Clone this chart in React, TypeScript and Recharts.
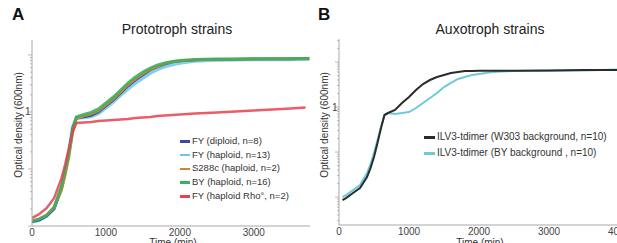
import { Legend, Line, LineChart, XAxis, YAxis } from "recharts";

// growth curves, OD600 vs time (min)
const TIME_A = [0, 100, 200, 300, 400, 450, 500, 550, 600, 700, 800, 900, 1000, 1100, 1200, 1300, 1400, 1500, 1600, 1700, 1800, 1900, 2000, 2200, 2500, 3000, 3500, 3700, 3750];
const FY_DIPLOID = [0.0118, 0.0127, 0.015, 0.0199, 0.0464, 0.0923, 0.199, 0.524, 0.785, 0.817, 0.868, 1.0, 1.27, 1.62, 2.15, 2.86, 3.64, 4.46, 5.46, 6.16, 6.95, 7.54, 7.85, 8.17, 8.34, 8.51, 8.51, 8.68, 8.68];
const FY_HAPLOID = [0.0118, 0.0127, 0.015, 0.0207, 0.0464, 0.0923, 0.207, 0.545, 0.785, 0.801, 0.834, 0.941, 1.18, 1.5, 1.99, 2.53, 3.23, 3.95, 4.83, 5.57, 6.28, 6.81, 7.24, 7.85, 8.17, 8.34, 8.34, 8.51, 8.51];
const S288C = [0.0122, 0.0133, 0.0156, 0.0207, 0.0428, 0.0785, 0.162, 0.428, 0.754, 0.851, 0.922, 1.04, 1.33, 1.69, 2.24, 2.98, 3.79, 4.64, 5.57, 6.28, 7.09, 7.54, 7.85, 8.17, 8.34, 8.51, 8.51, 8.51, 8.51];
const BY = [0.0122, 0.0133, 0.0156, 0.0215, 0.0503, 0.0961, 0.191, 0.483, 0.817, 0.904, 0.98, 1.13, 1.44, 1.83, 2.43, 3.23, 4.11, 5.03, 5.91, 6.68, 7.24, 7.69, 8.01, 8.34, 8.51, 8.6, 8.68, 8.68, 8.68];
const FY_RHO = [0.0138, 0.0162, 0.0207, 0.031, 0.0695, 0.122, 0.234, 0.446, 0.641, 0.654, 0.668, 0.695, 0.709, 0.724, 0.739, 0.754, 0.785, 0.801, 0.817, 0.851, 0.868, 0.886, 0.904, 0.941, 0.98, 1.06, 1.15, 1.2, null];

const TIME_B = [50, 100, 200, 300, 400, 450, 500, 550, 600, 650, 700, 800, 900, 1000, 1100, 1200, 1300, 1400, 1500, 1600, 1700, 1800, 1900, 2000, 2200, 2500, 3000, 3500, 4000];
const ILV3_W303 = [0.0086, 0.0095, 0.0123, 0.0159, 0.0278, 0.0441, 0.0774, 0.159, 0.341, 0.664, 0.736, 0.858, 1.23, 1.67, 2.39, 3.24, 3.98, 4.64, 5.14, 5.7, 5.99, 6.31, 6.31, 6.41, 6.41, 6.41, 6.49, 6.64, 6.64];
const ILV3_BY = [0.01, 0.0111, 0.0143, 0.0185, 0.0341, 0.0541, 0.095, 0.185, 0.36, 0.664, 0.736, 0.699, 0.736, 0.774, 0.95, 1.23, 1.59, 2.05, 2.78, 3.42, 4.19, 4.64, 5.14, 5.41, 5.99, 6.31, 6.41, 6.49, 6.81];

const NAMES_A = ["FY (diploid, n=8)", "FY (haploid, n=13)", "S288c (haploid, n=2)", "BY (haploid, n=16)", "FY (haploid Rho°, n=2)"];
const NAMES_B = ["ILV3-tdimer (W303 background, n=10)", "ILV3-tdimer (BY background , n=10)"];

const X_TICKS_A = [0, 1000, 2000, 3000];
const X_TICKS_B = [0, 1000, 2000, 3000, 4000];
const Y_TICKS_A = [0.01, 0.02, 0.03, 0.04, 0.05, 0.06, 0.07, 0.08, 0.09, 0.1, 0.2, 0.3, 0.4, 0.5, 0.6, 0.7, 0.8, 0.9, 1, 2, 3, 4, 5, 6, 7, 8, 9, 10];
const Y_TICKS_B = [0.003, 0.004, 0.005, 0.006, 0.007, 0.008, 0.009, ...Y_TICKS_A, 20, 30];
const MAJOR = [0.01, 0.1, 1, 10];

const FONT = '"Liberation Sans", Arial, sans-serif';
const AXIS = "#a8a8a8";
const COLORS_A = ["#3b4a9e", "#6cc7ec", "#c98538", "#3fae5c", "#e8414b"];
const COLORS_B = ["#2b2b2b", "#6ccbd8"];

const rowsA = TIME_A.map((t, i) => ({
  t,
  dip: FY_DIPLOID[i],
  hap: FY_HAPLOID[i],
  s288c: S288C[i],
  by: BY[i],
  rho: FY_RHO[i],
}));
const rowsB = TIME_B.map((t, i) => ({ t, w303: ILV3_W303[i], by: ILV3_BY[i] }));

function LogTick(props: any) {
  const { x, y, payload } = props;
  const v = payload.value;
  const len = MAJOR.includes(v) ? 4 : 2;
  return (
    <g>
      <line x1={x - len} x2={x} y1={y} y2={y} stroke={AXIS} strokeWidth={0.8} />
      {v === 1 && (
        <text x={x - 1.5} y={y} dy={3.5} textAnchor="end" fontSize={10} fill="#444">
          1
        </text>
      )}
    </g>
  );
}

function legendBox(names: string[], colors: string[], size: number, row: number, seg: number) {
  return () => (
    <div style={{ fontSize: size, lineHeight: `${row}px`, color: "#333", whiteSpace: "nowrap" }}>
      {names.map((n, i) => (
        <div key={n}>
          <span
            style={{
              display: "inline-block",
              width: seg,
              height: 2.5,
              background: colors[i],
              verticalAlign: "middle",
              marginRight: 2,
            }}
          />
          {n}
        </div>
      ))}
    </div>
  );
}

const abs = (s: any) => ({ position: "absolute" as const, ...s });

export default function App() {
  return (
    <div
      style={abs({
        left: 0,
        top: 0,
        width: 617,
        height: 243,
        overflow: "hidden",
        background: "#fff",
        fontFamily: FONT,
      })}
    >
      <div style={abs({ left: 0, top: 0 })}>
        <LineChart width={312} height={243} data={rowsA} margin={{ top: 40, right: 2, bottom: 0, left: 0 }}>
          <XAxis
            dataKey="t"
            type="number"
            domain={[0, 3760]}
            allowDataOverflow
            ticks={X_TICKS_A}
            interval={0}
            tickLine={false}
            tickSize={0}
            tickMargin={3}
            height={17}
            stroke={AXIS}
            tick={{ fontSize: 10, fill: "#444" }}
          />
          <YAxis
            type="number"
            scale="log"
            domain={[0.01, 18.3]}
            allowDataOverflow
            ticks={Y_TICKS_A}
            interval={0}
            tickLine={false}
            tickSize={0}
            tickMargin={0}
            width={32}
            stroke={AXIS}
            tick={<LogTick />}
          />
          <Line dataKey="hap" stroke={COLORS_A[1]} strokeWidth={3.5} strokeOpacity={0.85} dot={false} isAnimationActive={false} />
          <Line dataKey="dip" stroke={COLORS_A[0]} strokeWidth={2.5} dot={false} isAnimationActive={false} />
          <Line dataKey="s288c" stroke={COLORS_A[2]} strokeWidth={2.5} dot={false} isAnimationActive={false} />
          <Line dataKey="by" stroke={COLORS_A[3]} strokeWidth={3} strokeOpacity={0.9} dot={false} isAnimationActive={false} />
          <Line dataKey="rho" stroke={COLORS_A[4]} strokeWidth={2.5} strokeOpacity={0.85} dot={false} isAnimationActive={false} />
          <Legend
            layout="vertical"
            align="center"
            verticalAlign="middle"
            wrapperStyle={{ left: 180, top: 134, width: "auto", height: "auto" }}
            content={legendBox(NAMES_A, COLORS_A, 9.5, 13.7, 10)}
          />
        </LineChart>
      </div>

      <div style={abs({ left: 307, top: 0 })}>
        <LineChart width={314} height={243} data={rowsB} margin={{ top: 39, right: 2, bottom: 0, left: 0 }}>
          <XAxis
            dataKey="t"
            type="number"
            domain={[0, 4000]}
            allowDataOverflow
            ticks={X_TICKS_B}
            interval={0}
            tickLine={false}
            tickSize={0}
            tickMargin={3}
            height={18}
            stroke={AXIS}
            tick={{ fontSize: 10, fill: "#444" }}
          />
          <YAxis
            type="number"
            scale="log"
            domain={[0.0024, 32.4]}
            allowDataOverflow
            ticks={Y_TICKS_B}
            interval={0}
            tickLine={false}
            tickSize={0}
            tickMargin={0}
            width={32}
            stroke={AXIS}
            tick={<LogTick />}
          />
          <Line dataKey="by" stroke={COLORS_B[1]} strokeWidth={2} dot={false} isAnimationActive={false} />
          <Line dataKey="w303" stroke={COLORS_B[0]} strokeWidth={2} dot={false} isAnimationActive={false} />
          <Legend
            layout="vertical"
            align="center"
            verticalAlign="middle"
            wrapperStyle={{ left: 117, top: 129, width: "auto", height: "auto" }}
            content={legendBox(NAMES_B, COLORS_B, 10, 16, 11)}
          />
        </LineChart>
      </div>

      {/* panel letters and titles */}
      <div style={abs({ left: 12, top: 6, fontSize: 17, lineHeight: "17px", fontWeight: "bold", color: "#111" })}>A</div>
      <div style={abs({ left: 318, top: 6, fontSize: 17, lineHeight: "17px", fontWeight: "bold", color: "#111" })}>B</div>
      <div style={abs({ left: 97, width: 160, top: 22, fontSize: 14, lineHeight: "14px", textAlign: "center", color: "#222" })}>
        Prototroph strains
      </div>
      <div style={abs({ left: 410, width: 160, top: 22, fontSize: 14, lineHeight: "14px", textAlign: "center", color: "#222" })}>
        Auxotroph strains
      </div>

      {/* axis titles */}
      {[19, 325].map((cx) => (
        <div
          key={cx}
          style={abs({
            left: cx - 70,
            top: 119,
            width: 140,
            height: 12,
            fontSize: 10,
            lineHeight: "12px",
            textAlign: "center",
            color: "#333",
            transform: "rotate(-90deg)",
          })}
        >
          Optical density (600nm)
        </div>
      ))}
      {[173, 480].map((cx) => (
        <div
          key={cx}
          style={abs({ left: cx - 40, top: 237.5, width: 80, fontSize: 10, lineHeight: "10px", textAlign: "center", color: "#333" })}
        >
          Time (min)
        </div>
      ))}
    </div>
  );
}
